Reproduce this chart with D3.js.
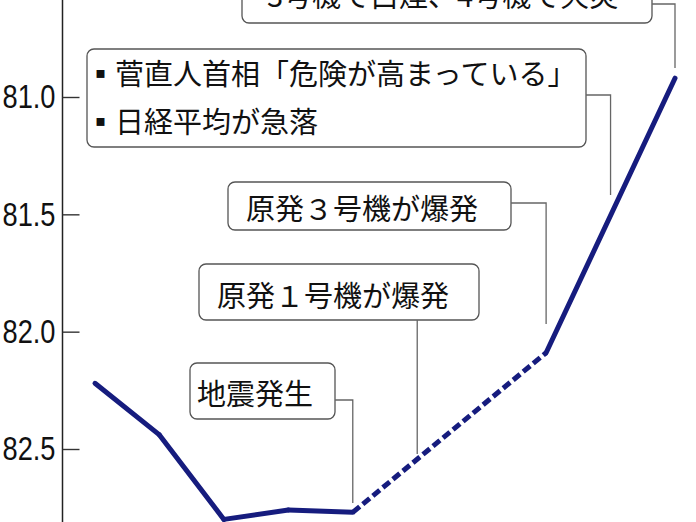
<!DOCTYPE html>
<html>
<head>
<meta charset="utf-8">
<script src="https://cdn.jsdelivr.net/npm/d3@7"></script>
<style>
  body { margin: 0; background: #fff; }
  svg { display: block; }
</style>
</head>
<body>
<svg id="chart" width="696" height="522"></svg>
<script>
// yen per dollar readings (axis reversed: stronger yen goes up)
const pointIndex = [0, 1, 2, 3, 4, 7, 9];
const rate = [82.22, 82.44, 82.80, 82.76, 82.77, 82.09, 80.92];
const dashedSegments = [4]; // segment starting at this point is drawn dashed
const tickValues = [81.0, 81.5, 82.0, 82.5];

const noteTexts = [
    ["3号機で白煙、4号機で火災"],
    ["▪菅直人首相「危険が高まっている」", "▪日経平均が急落"],
    ["原発３号機が爆発"],
    ["原発１号機が爆発"],
    ["地震発生"]
];
const noteIndex = [9, 8, 7, 5, 4];

// box layout for each note
const noteBoxes = [
    { x: 242, y: -40, w: 410, h: 63, tx: 267, ty: [-1], leaderY: 4, leaderEnd: 68 },
    { x: 87, y: 49, w: 499, h: 98, tx: 86, ty: [77, 125], leaderY: 95, leaderEnd: 195 },
    { x: 228, y: 182, w: 283, h: 48, tx: 246, ty: [212], leaderY: 203, leaderEnd: 324 },
    { x: 199, y: 264, w: 280, h: 56, tx: 217, ty: [299], leaderY: null, leaderEnd: 454 },
    { x: 190, y: 363, w: 145, h: 56, tx: 197, ty: [397], leaderY: 400, leaderEnd: 503 }
];

const svg = d3.select("#chart");

const x = d3.scaleLinear().domain([0, 9]).range([95, 675]);
const y = d3.scaleLinear().domain([81, 82.5]).range([97, 449]);

// y axis
svg.append("line")
    .attr("x1", 62.5).attr("x2", 62.5)
    .attr("y1", 0).attr("y2", 522)
    .attr("stroke", "#222").attr("stroke-width", 1.5);

const axis = svg.append("g")
    .attr("transform", "translate(62.5,0)")
    .call(d3.axisLeft(y).tickValues(tickValues).tickFormat(d3.format(".1f")).tickSize(-17).tickPadding(7));
axis.select(".domain").remove();
axis.selectAll(".tick line").attr("stroke", "#333").attr("stroke-width", 1.4);
axis.selectAll(".tick text")
    .attr("fill", "#111")
    .attr("textLength", 53)
    .attr("lengthAdjust", "spacingAndGlyphs")
    .style("font-family", "'Liberation Sans', sans-serif")
    .style("font-size", "34px");

// annotation boxes + leaders
const notes = svg.append("g");
noteBoxes.forEach((b, i) => {
    const g = notes.append("g");
    g.append("rect")
        .attr("x", b.x).attr("y", b.y).attr("width", b.w).attr("height", b.h)
        .attr("rx", 7).attr("ry", 7)
        .attr("fill", "#fff").attr("stroke", "#555").attr("stroke-width", 1.3);
    noteTexts[i].forEach((t, j) => {
        g.append("text")
            .attr("x", b.tx).attr("y", b.ty[j])
            .attr("dominant-baseline", "middle")
            .attr("fill", "#111")
            .style("font-family", "'Noto Sans CJK JP', sans-serif")
            .style("font-size", "29px")
            .text(t);
    });
    const lx = x(noteIndex[i]);
    let path;
    if (b.leaderY === null) {
        path = `M${lx},${b.y + b.h}V${b.leaderEnd}`;
    } else {
        path = `M${b.x + b.w},${b.leaderY}H${lx}V${b.leaderEnd}`;
    }
    g.append("path").attr("d", path)
        .attr("fill", "none").attr("stroke", "#666").attr("stroke-width", 1.3);
});

// line, segment by segment
const pts = pointIndex.map((d, i) => [x(d), y(rate[i])]);
const line = d3.line();
for (let i = 0; i < pts.length - 1; i++) {
    svg.append("path")
        .attr("d", line([pts[i], pts[i + 1]]))
        .attr("fill", "none")
        .attr("stroke", "#161c7e")
        .attr("stroke-width", 5)
        .attr("stroke-linejoin", "round")
        .attr("stroke-linecap", dashedSegments.includes(i) ? "butt" : "round")
        .attr("stroke-dasharray", dashedSegments.includes(i) ? "9,4" : null);
}
</script>
</body>
</html>
